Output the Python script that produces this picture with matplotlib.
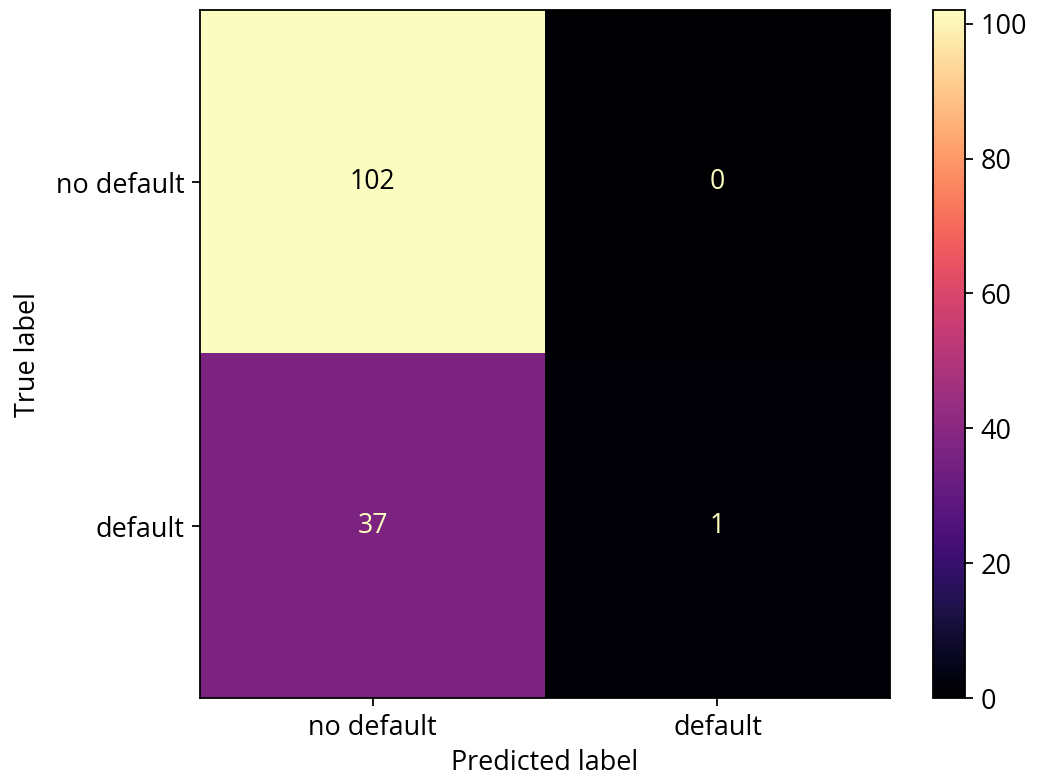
import numpy as np
import matplotlib
matplotlib.use("Agg")
import matplotlib.pyplot as plt

plt.rcParams["font.family"] = ["Open Sans", "DejaVu Sans"]
plt.rcParams["font.size"] = 12.0

# Confusion matrix counts (rows: true label, cols: predicted label)
class_names = ["no default", "default"]
counts = np.array([[102, 0],
                   [37, 1]])

fig = plt.figure(figsize=(1038 / 162, 780 / 162), dpi=162)
ax = fig.add_axes([0.1927, 0.1051, 0.8574 - 0.1927, 0.987 - 0.1051])
cax = fig.add_axes([0.8988, 0.1051, 0.9297 - 0.8988, 0.987 - 0.1051])

cmap = plt.get_cmap("magma")
im = ax.imshow(counts, interpolation="nearest", cmap=cmap, aspect="auto")
cmap_min, cmap_max = im.cmap(0), im.cmap(1.0)
thresh = (counts.max() + counts.min()) / 2.0

for i in range(counts.shape[0]):
    for j in range(counts.shape[1]):
        color = cmap_max if counts[i, j] < thresh else cmap_min
        ax.text(j, i, format(counts[i, j], "d"), ha="center", va="center",
                color=color, fontsize=11.8)

fig.colorbar(im, cax=cax)
ax.set_xticks(np.arange(len(class_names)), labels=class_names)
ax.set_yticks(np.arange(len(class_names)), labels=class_names)
ax.set_xlabel("Predicted label", labelpad=3)
ax.set_ylabel("True label", labelpad=6)
ax.set_ylim(len(class_names) - 0.5, -0.5)

fig.savefig("out.png", dpi=162)
